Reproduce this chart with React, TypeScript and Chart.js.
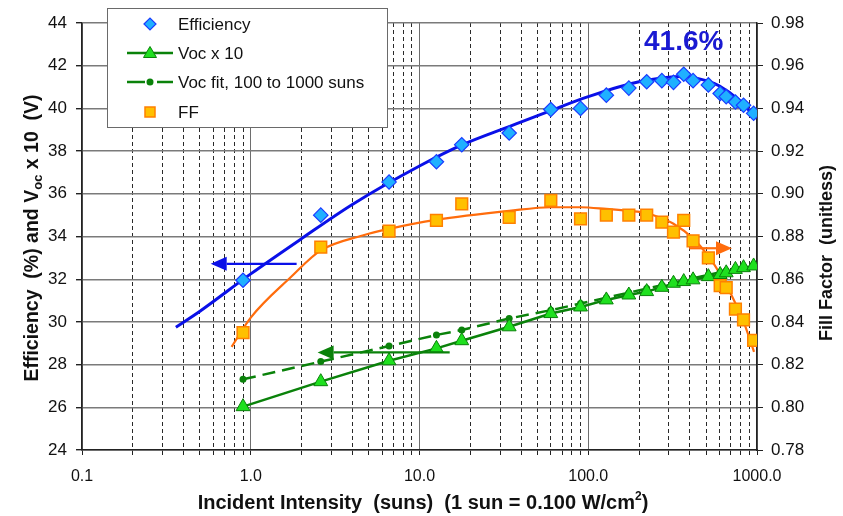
import React, { useEffect, useRef } from 'react';
import { Chart, registerables } from 'chart.js';

Chart.register(...registerables);

// Measured intensities (suns) shared by all measured series
const intensity = [0.9, 2.6, 6.6, 12.6, 17.8, 34, 60, 90, 128, 174, 222, 273, 320, 368, 418, 515, 605, 657, 745, 832, 955];

// Efficiency (%)
const efficiency = [31.95, 35.0, 36.55, 37.5, 38.3, 38.85, 39.95, 40.0, 40.62, 40.95, 41.25, 41.3, 41.22, 41.6, 41.3, 41.1, 40.7, 40.55, 40.3, 40.15, 39.77];

// Voc x 10 (V)
const vocTimes10 = [26.03, 27.2, 28.18, 28.76, 29.12, 29.77, 30.39, 30.7, 31.03, 31.26, 31.42, 31.62, 31.81, 31.89, 31.97, 32.12, 32.22, 32.3, 32.46, 32.54, 32.62];

// Voc fit, 100 to 1000 suns (x 10, V)
const vocFit = [27.31, 28.14, 28.87, 29.39, 29.62, 30.16, 30.55, 30.86, 31.13, 31.37, 31.56, 31.72, 31.84, 31.95, 32.04, 32.2, 32.33, 32.39, 32.49, 32.57, 32.68];

// Fill factor (unitless)
const fillFactor = [0.835, 0.875, 0.8825, 0.8875, 0.8953, 0.889, 0.8969, 0.8883, 0.89, 0.89, 0.89, 0.8867, 0.882, 0.8875, 0.878, 0.87, 0.857, 0.856, 0.846, 0.841, 0.8314];

// Smooth trend curve through the efficiency data
const effCurveX = [0.36, 0.5, 1, 2, 4, 10, 18, 34, 60, 100, 200, 370, 500, 600, 780, 950];
const effCurveY = [29.75, 30.5, 32.25, 33.9, 35.5, 37.3, 38.3, 39.15, 39.9, 40.55, 41.25, 41.5, 41.3, 41.05, 40.4, 39.7];

// Smooth trend curve through the fill factor data
const ffCurveX = [0.77, 1, 1.73, 2.6, 4.6, 6.6, 12.5, 34, 60, 90, 128, 173, 221, 275, 320, 419, 520, 611, 706, 826, 960];
const ffCurveY = [0.8283, 0.842, 0.861, 0.8735, 0.8805, 0.8836, 0.8878, 0.892, 0.8937, 0.8937, 0.8929, 0.892, 0.891, 0.8883, 0.886, 0.879, 0.8703, 0.8618, 0.8525, 0.8408, 0.826];

// Axis-pointer arrows (tail -> tip, in data units)
const effArrowX = [1.87, 0.579];
const effArrowY = [32.72, 32.72];
const vocArrowX = [15.1, 2.49];
const vocArrowY = [28.57, 28.57];
const ffArrowX = [396, 711];
const ffArrowY = [0.8745, 0.8745];

// Axis ticks
const xDecades = [0.1, 1, 10, 100, 1000];
const xDecadeLabels = ['0.1', '1.0', '10.0', '100.0', '1000.0'];
const leftMin = 24, leftMax = 44, leftStep = 2;
const rightMin = 0.78, rightMax = 0.98, rightStep = 0.02;

const FONT = '"Liberation Sans", Arial, Helvetica, sans-serif';
const BLUE = '#0a10e8';
const GREEN = '#0a820a';
const ORANGE = '#ff6c0c';

const pts = (xs: number[], ys: number[]) => xs.map((x, i) => ({ x, y: ys[i] }));

const isDecade = (v: number) => xDecades.some((d) => Math.abs(v / d - 1) < 1e-6);

const xTickValues: number[] = (() => {
  const out: number[] = [];
  for (let d = 0; d < xDecades.length - 1; d++) {
    for (let m = 1; m <= 9; m++) out.push(+(xDecades[d] * m).toPrecision(6));
  }
  out.push(xDecades[xDecades.length - 1]);
  return out;
})();

type Part = { t: string; size: number; dy?: number; bold?: boolean };

function drawRich(ctx: CanvasRenderingContext2D, parts: Part[], cx: number, cy: number) {
  let total = 0;
  const widths = parts.map((p) => {
    ctx.font = `${p.bold === false ? '' : 'bold '}${p.size}px ${FONT}`;
    const w = ctx.measureText(p.t).width;
    total += w;
    return w;
  });
  let x = cx - total / 2;
  ctx.textAlign = 'left';
  ctx.textBaseline = 'alphabetic';
  parts.forEach((p, i) => {
    ctx.font = `${p.bold === false ? '' : 'bold '}${p.size}px ${FONT}`;
    ctx.fillText(p.t, x, cy + (p.dy || 0));
    x += widths[i];
  });
}

function drawArrow(ctx: CanvasRenderingContext2D, x1: number, y1: number, x2: number, y2: number, color: string) {
  const head = 16;
  const half = 7;
  const ang = Math.atan2(y2 - y1, x2 - x1);
  const bx = x2 - Math.cos(ang) * head;
  const by = y2 - Math.sin(ang) * head;
  ctx.save();
  ctx.strokeStyle = color;
  ctx.fillStyle = color;
  ctx.lineWidth = 2.2;
  ctx.beginPath();
  ctx.moveTo(x1, y1);
  ctx.lineTo(bx, by);
  ctx.stroke();
  ctx.beginPath();
  ctx.moveTo(x2, y2);
  ctx.lineTo(bx - Math.sin(ang) * half, by + Math.cos(ang) * half);
  ctx.lineTo(bx + Math.sin(ang) * half, by - Math.cos(ang) * half);
  ctx.closePath();
  ctx.fill();
  ctx.restore();
}

const overlayPlugin = {
  id: 'cellOverlay',
  afterDatasetsDraw(chart: any) {
    const ctx: CanvasRenderingContext2D = chart.ctx;
    const { x, y, y2 } = chart.scales;

    // arrows pointing at each series' axis
    drawArrow(ctx, x.getPixelForValue(effArrowX[0]), y.getPixelForValue(effArrowY[0]), x.getPixelForValue(effArrowX[1]), y.getPixelForValue(effArrowY[1]), BLUE);
    drawArrow(ctx, x.getPixelForValue(vocArrowX[0]), y.getPixelForValue(vocArrowY[0]), x.getPixelForValue(vocArrowX[1]), y.getPixelForValue(vocArrowY[1]), GREEN);
    drawArrow(ctx, x.getPixelForValue(ffArrowX[0]), y2.getPixelForValue(ffArrowY[0]), x.getPixelForValue(ffArrowX[1]), y2.getPixelForValue(ffArrowY[1]), ORANGE);

    // peak efficiency callout
    let peak = 0;
    efficiency.forEach((v, i) => { if (v > efficiency[peak]) peak = i; });
    ctx.save();
    ctx.fillStyle = '#1a1ad2';
    ctx.font = `bold 28px ${FONT}`;
    ctx.textAlign = 'center';
    ctx.textBaseline = 'middle';
    ctx.fillText(`${efficiency[peak].toFixed(1)}%`, x.getPixelForValue(intensity[peak]), y.getPixelForValue(43.1));
    ctx.restore();

    // legend box
    const lx = 107, ly = 8, lw = 280, lh = 119;
    ctx.save();
    ctx.fillStyle = '#ffffff';
    ctx.fillRect(lx, ly, lw, lh);
    ctx.strokeStyle = '#6a6a6a';
    ctx.lineWidth = 1;
    ctx.strokeRect(lx + 0.5, ly + 0.5, lw, lh);

    const sx = 150;
    const rows = [24, 53, 82, 112];
    // Efficiency
    ctx.beginPath();
    ctx.moveTo(sx - 6, rows[0]); ctx.lineTo(sx, rows[0] - 6); ctx.lineTo(sx + 6, rows[0]); ctx.lineTo(sx, rows[0] + 6); ctx.closePath();
    ctx.fillStyle = '#1fb0ff'; ctx.fill();
    ctx.strokeStyle = '#1a3cff'; ctx.lineWidth = 1.2; ctx.stroke();
    // Voc x 10
    ctx.strokeStyle = GREEN; ctx.lineWidth = 2.5;
    ctx.beginPath(); ctx.moveTo(127, rows[1]); ctx.lineTo(173, rows[1]); ctx.stroke();
    ctx.beginPath();
    ctx.moveTo(sx, rows[1] - 6.5); ctx.lineTo(sx + 6.5, rows[1] + 4.5); ctx.lineTo(sx - 6.5, rows[1] + 4.5); ctx.closePath();
    ctx.fillStyle = '#1fe01f'; ctx.fill();
    ctx.strokeStyle = GREEN; ctx.lineWidth = 1; ctx.stroke();
    // Voc fit
    ctx.strokeStyle = GREEN; ctx.lineWidth = 2.5;
    ctx.beginPath(); ctx.moveTo(127, rows[2]); ctx.lineTo(145, rows[2]); ctx.stroke();
    ctx.beginPath(); ctx.moveTo(157, rows[2]); ctx.lineTo(173, rows[2]); ctx.stroke();
    ctx.beginPath(); ctx.arc(sx, rows[2], 3.5, 0, Math.PI * 2); ctx.fillStyle = GREEN; ctx.fill();
    // FF
    ctx.fillStyle = '#ffc000';
    ctx.fillRect(sx - 5, rows[3] - 5, 10, 10);
    ctx.strokeStyle = '#ff8000'; ctx.lineWidth = 1.5;
    ctx.strokeRect(sx - 5, rows[3] - 5, 10, 10);

    ctx.fillStyle = '#111';
    ctx.font = `17px ${FONT}`;
    ctx.textAlign = 'left';
    ctx.textBaseline = 'middle';
    ['Efficiency', 'Voc x 10', 'Voc fit, 100 to 1000 suns', 'FF'].forEach((t, i) => ctx.fillText(t, 178, rows[i] + 1));
    ctx.restore();
  },
  afterDraw(chart: any) {
    const ctx: CanvasRenderingContext2D = chart.ctx;
    ctx.save();
    ctx.fillStyle = '#111';

    // left axis title, rotated
    ctx.save();
    ctx.translate(38, 238);
    ctx.rotate(-Math.PI / 2);
    drawRich(ctx, [
      { t: 'Efficiency  (%) and V', size: 19.5 },
      { t: 'oc', size: 13, dy: 4 },
      { t: ' x 10  (V)', size: 19.5 },
    ], 0, 0);
    ctx.restore();

    // right axis title, rotated
    ctx.save();
    ctx.translate(832, 253);
    ctx.rotate(-Math.PI / 2);
    drawRich(ctx, [{ t: 'Fill Factor  (unitless)', size: 18 }], 0, 0);
    ctx.restore();

    // bottom axis title with superscript
    drawRich(ctx, [
      { t: 'Incident Intensity  (suns)  (1 sun = 0.100 W/cm', size: 20 },
      { t: '2', size: 12, dy: -9 },
      { t: ')', size: 20 },
    ], 423, 509);
    ctx.restore();
  },
};

export default function App() {
  const canvasRef = useRef<HTMLCanvasElement | null>(null);

  useEffect(() => {
    if (!canvasRef.current) return;
    const tickFont = { family: FONT, size: 17 };
    const chart = new Chart(canvasRef.current, {
      type: 'scatter',
      data: {
        datasets: [
          {
            label: 'Efficiency',
            data: pts(intensity, efficiency),
            yAxisID: 'y',
            showLine: false,
            pointStyle: 'rectRot',
            pointRadius: 7.2,
            pointBackgroundColor: '#1fb0ff',
            pointBorderColor: '#1a3cff',
            pointBorderWidth: 1.2,
            order: 1,
          },
          {
            label: 'FF',
            data: pts(intensity, fillFactor),
            yAxisID: 'y2',
            showLine: false,
            pointStyle: 'rect',
            pointRadius: 8.3,
            pointBackgroundColor: '#ffc000',
            pointBorderColor: '#ff8000',
            pointBorderWidth: 1.5,
            order: 2,
          },
          {
            type: 'line',
            label: 'Voc x 10',
            data: pts(intensity, vocTimes10),
            yAxisID: 'y',
            borderColor: GREEN,
            borderWidth: 2.5,
            pointStyle: 'triangle',
            pointRadius: 8,
            pointBackgroundColor: '#1fe01f',
            pointBorderColor: GREEN,
            pointBorderWidth: 1,
            tension: 0,
            fill: false,
            order: 3,
          },
          {
            type: 'line',
            label: 'Voc fit, 100 to 1000 suns',
            data: pts(intensity, vocFit),
            yAxisID: 'y',
            borderColor: GREEN,
            borderWidth: 2.5,
            borderDash: [13, 7],
            pointStyle: 'circle',
            pointRadius: 3.5,
            pointBackgroundColor: GREEN,
            pointBorderColor: GREEN,
            pointBorderWidth: 0,
            tension: 0,
            fill: false,
            order: 4,
          },
          {
            type: 'line',
            label: 'Efficiency trend',
            data: pts(effCurveX, effCurveY),
            yAxisID: 'y',
            borderColor: BLUE,
            borderWidth: 3,
            pointRadius: 0,
            cubicInterpolationMode: 'monotone',
            fill: false,
            order: 5,
          },
          {
            type: 'line',
            label: 'FF trend',
            data: pts(ffCurveX, ffCurveY),
            yAxisID: 'y2',
            borderColor: ORANGE,
            borderWidth: 2.2,
            pointRadius: 0,
            cubicInterpolationMode: 'monotone',
            fill: false,
            order: 6,
          },
        ],
      },
      options: {
        animation: false,
        responsive: true,
        maintainAspectRatio: false,
        layout: { padding: { top: 23, left: 0, right: 0, bottom: 0 } },
        plugins: {
          legend: { display: false },
          tooltip: { enabled: false },
        },
        scales: {
          x: {
            type: 'logarithmic',
            position: 'bottom',
            min: xDecades[0],
            max: xDecades[xDecades.length - 1],
            afterBuildTicks: (s: any) => {
              s.ticks = xTickValues.map((v) => ({ value: v }));
            },
            afterFit: (s: any) => { s.height = 66; },
            ticks: {
              autoSkip: false,
              maxRotation: 0,
              minRotation: 0,
              padding: 12,
              color: '#111',
              font: { family: FONT, size: 16 },
              callback: (v: any) => {
                const i = xDecades.findIndex((d) => Math.abs(Number(v) / d - 1) < 1e-6);
                return i >= 0 ? xDecadeLabels[i] : '';
              },
            },
            grid: {
              color: (c: any) => (c.tick && isDecade(c.tick.value) ? '#6e6e6e' : '#2a2a2a'),
              lineWidth: 1,
              tickLength: 5,
              tickColor: '#222',
            },
            border: {
              color: '#222',
              width: 1.5,
              dash: (c: any) => (c.tick && !isDecade(c.tick.value) ? [4, 3] : []),
            },
          },
          y: {
            type: 'linear',
            position: 'left',
            min: leftMin,
            max: leftMax,
            afterFit: (s: any) => { s.width = 82; },
            ticks: { stepSize: leftStep, padding: 9, color: '#111', font: tickFont },
            grid: { color: '#7a7a7a', lineWidth: 1.4, tickLength: 6, tickColor: '#222' },
            border: { color: '#222', width: 1.5 },
          },
          y2: {
            type: 'linear',
            position: 'right',
            min: rightMin,
            max: rightMax,
            afterFit: (s: any) => { s.width = 86; },
            ticks: {
              stepSize: rightStep,
              padding: 8,
              color: '#111',
              font: tickFont,
              callback: (v: any) => Number(v).toFixed(2),
            },
            grid: { drawOnChartArea: false, tickLength: 6, tickColor: '#222' },
            border: { color: '#222', width: 1.5 },
          },
        },
      } as any,
      plugins: [overlayPlugin],
    } as any);
    return () => chart.destroy();
  }, []);

  return (
    <div style={{ position: 'absolute', left: 0, top: 0, width: 843, height: 516, background: '#fff' }}>
      <canvas ref={canvasRef} />
    </div>
  );
}
